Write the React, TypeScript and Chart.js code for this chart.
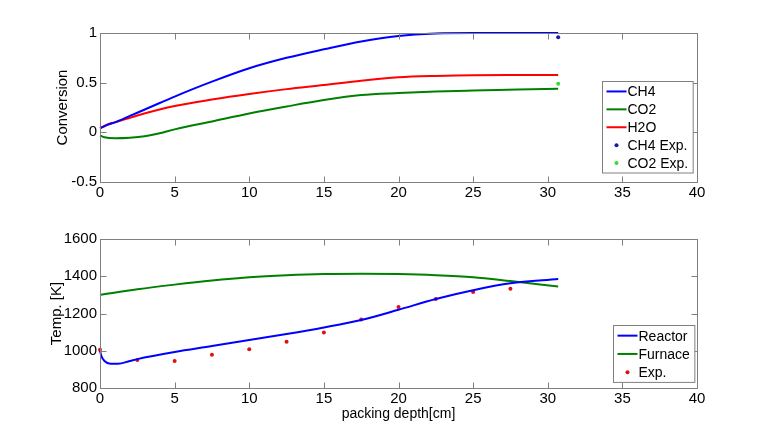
import React, { useEffect, useRef } from "react";
import { Chart, registerables } from "chart.js";
Chart.register(...registerables);

// ---- Top panel: conversion ----
const ch4X = [0, 0.5, 1, 2, 3, 4, 5, 7.5, 10, 12.5, 15, 17.5, 20, 22.5, 25, 28, 30.7];
const ch4Y = [0.04, 0.075, 0.1, 0.165, 0.23, 0.295, 0.36, 0.51, 0.645, 0.75, 0.836, 0.915, 0.97, 0.995, 1.0, 1.0, 1.0];
const co2X = [0, 0.3, 1, 2, 3, 4, 5, 7.5, 10, 12.5, 15, 17.5, 20, 22.5, 25, 28, 30.7];
const co2Y = [-0.03, -0.05, -0.06, -0.055, -0.04, -0.01, 0.03, 0.11, 0.19, 0.26, 0.325, 0.375, 0.395, 0.41, 0.42, 0.43, 0.44];
const h2oX = [0, 0.5, 1, 2.5, 5, 7.5, 10, 12.5, 15, 17.5, 20, 22.5, 25, 28, 30.7];
const h2oY = [0.04, 0.08, 0.1, 0.17, 0.265, 0.33, 0.386, 0.435, 0.476, 0.52, 0.554, 0.568, 0.575, 0.576, 0.576];
const ch4ExpX = [30.7];
const ch4ExpY = [0.957];
const co2ExpX = [30.7];
const co2ExpY = [0.49];

// ---- Bottom panel: temperature ----
const reactorX = [0, 0.1, 0.3, 0.7, 1.2, 2, 2.5, 5, 7.5, 10, 12.5, 15, 17.5, 20, 22.5, 25, 27.5, 30.7];
const reactorY = [1000, 970, 945, 930, 930, 945, 955, 993, 1025, 1058, 1090, 1125, 1165, 1220, 1278, 1325, 1362, 1385];
const furnaceX = [0, 2.5, 5, 7.5, 10, 12.5, 15, 17.5, 20, 22.5, 25, 27.5, 30.7];
const furnaceY = [1300, 1330, 1355, 1377, 1394, 1405, 1412, 1414, 1412, 1406, 1395, 1374, 1345];
const expX = [0, 2.5, 5, 7.5, 10, 12.5, 15, 17.5, 20, 22.5, 25, 27.5];
const expY = [1005, 950, 945, 978, 1008, 1048, 1098, 1168, 1235, 1278, 1315, 1333];

const FONT = "Arial, 'Liberation Sans', Helvetica, sans-serif";

const pts = (xs: number[], ys: number[]) => xs.map((x, i) => ({ x, y: ys[i] }));

const boxPlugin = {
  id: "mbox",
  afterDraw(chart: any) {
    const { ctx, chartArea: a, scales } = chart;
    ctx.save();
    ctx.strokeStyle = "#808080";
    ctx.lineWidth = 1;
    const L = Math.round(a.left) + 0.5, R = Math.round(a.right) + 0.5;
    const T = Math.round(a.top) + 0.5, B = Math.round(a.bottom) + 0.5;
    ctx.strokeRect(L, T, R - L, B - T);
    const tl = 6;
    ctx.beginPath();
    scales.x.ticks.forEach((t: any) => {
      const px = Math.round(scales.x.getPixelForValue(t.value)) + 0.5;
      ctx.moveTo(px, B); ctx.lineTo(px, B - tl);
      ctx.moveTo(px, T); ctx.lineTo(px, T + tl);
    });
    scales.y.ticks.forEach((t: any) => {
      const py = Math.round(scales.y.getPixelForValue(t.value)) + 0.5;
      ctx.moveTo(L, py); ctx.lineTo(L + tl, py);
      ctx.moveTo(R, py); ctx.lineTo(R - tl, py);
    });
    ctx.stroke();
    ctx.restore();
  },
};

const legendPlugin = {
  id: "mlegend",
  afterDraw(chart: any, _args: any, opts: any) {
    const { ctx, chartArea: a } = chart;
    const ds = chart.data.datasets;
    ctx.save();
    ctx.font = `14px ${FONT}`;
    let maxW = 0;
    ds.forEach((d: any) => { maxW = Math.max(maxW, ctx.measureText(d.label).width); });
    const rowH = opts.rowH;
    const lineW = 20;
    const w = 4 + lineW + 1 + maxW + 5;
    const h = rowH * ds.length + 2;
    const right = a.right - opts.right;
    const bottom = a.bottom - opts.bottom;
    const x0 = Math.round(right - w) + 0.5;
    const y0 = Math.round(bottom - h) + 0.5;
    ctx.fillStyle = "#fff";
    ctx.fillRect(x0, y0, w, h);
    ctx.strokeStyle = "#808080";
    ctx.lineWidth = 1;
    ctx.strokeRect(x0, y0, w, h);
    ds.forEach((d: any, i: number) => {
      const cy = y0 + 1 + rowH * (i + 0.5);
      const lx = x0 + 4;
      if (d.showLine === false) {
        ctx.fillStyle = d.pointBackgroundColor;
        ctx.beginPath();
        ctx.arc(lx + lineW / 2, cy, 2, 0, Math.PI * 2);
        ctx.fill();
      } else {
        ctx.strokeStyle = d.borderColor;
        ctx.lineWidth = 2;
        ctx.beginPath();
        ctx.moveTo(lx, cy); ctx.lineTo(lx + lineW, cy);
        ctx.stroke();
      }
      ctx.fillStyle = "#000";
      ctx.textBaseline = "middle";
      ctx.textAlign = "left";
      ctx.fillText(d.label, lx + lineW + 1, cy + 1);
    });
    ctx.restore();
  },
};

const lineDs = (label: string, xs: number[], ys: number[], color: string) => ({
  label,
  data: pts(xs, ys),
  borderColor: color,
  backgroundColor: color,
  borderWidth: 2,
  pointRadius: 0,
  showLine: true,
  cubicInterpolationMode: "monotone" as const,
  clip: false as any,
});

const dotDs = (label: string, xs: number[], ys: number[], color: string) => ({
  label,
  data: pts(xs, ys),
  borderColor: color,
  backgroundColor: color,
  pointBackgroundColor: color,
  pointBorderColor: color,
  pointRadius: 2,
  pointBorderWidth: 0,
  showLine: false,
  clip: false as any,
});

function makeOptions(
  yMin: number, yMax: number, yStep: number, yTitle: string, yTitlePad: number,
  xHeight: number, padTop: number, xTitle: string | null,
  legend: { right: number; bottom: number; rowH: number }
): any {
  return {
    responsive: false,
    animation: false,
    layout: { padding: { left: 0, right: 73, top: padTop, bottom: 0 } },
    plugins: {
      legend: { display: false },
      tooltip: { enabled: false },
      mlegend: legend,
    },
    scales: {
      x: {
        type: "linear",
        min: 0, max: 40,
        grid: { display: false, drawTicks: false },
        border: { display: false },
        ticks: {
          stepSize: 5, padding: 2, color: "#000", maxRotation: 0, autoSkip: false,
          font: { family: FONT, size: 15 },
          callback: (v: any) => String(v),
        },
        title: xTitle
          ? { display: true, text: xTitle, color: "#000", font: { family: FONT, size: 14 }, padding: { top: 0, bottom: 13 } }
          : { display: false },
        afterFit: (s: any) => { s.height = xHeight; },
      },
      y: {
        type: "linear",
        min: yMin, max: yMax,
        grid: { display: false, drawTicks: false },
        border: { display: false },
        ticks: {
          stepSize: yStep, padding: 3, color: "#000",
          font: { family: FONT, size: 15 },
          callback: (v: any) => String(v),
        },
        title: { display: true, text: yTitle, color: "#000", font: { family: FONT, size: 15 }, padding: { top: yTitlePad, bottom: 0 } },
        afterFit: (s: any) => { s.width = 100; },
      },
    },
  };
}

export default function App() {
  const topRef = useRef<HTMLCanvasElement>(null);
  const botRef = useRef<HTMLCanvasElement>(null);

  useEffect(() => {
    const top = new Chart(topRef.current!, {
      type: "scatter",
      data: {
        datasets: [
          lineDs("CH4", ch4X, ch4Y, "#0000ff"),
          lineDs("CO2", co2X, co2Y, "#008000"),
          lineDs("H2O", h2oX, h2oY, "#ff0000"),
          dotDs("CH4 Exp.", ch4ExpX, ch4ExpY, "#1a1aa0"),
          dotDs("CO2 Exp.", co2ExpX, co2ExpY, "#33dd33"),
        ] as any,
      },
      options: makeOptions(-0.5, 1, 0.5, "Conversion", 54, 36, 33, null, { right: 4, bottom: 10, rowH: 17.9 }),
      plugins: [boxPlugin, legendPlugin],
    });
    const bot = new Chart(botRef.current!, {
      type: "scatter",
      data: {
        datasets: [
          lineDs("Reactor", reactorX, reactorY, "#0000ff"),
          lineDs("Furnace", furnaceX, furnaceY, "#008000"),
          dotDs("Exp.", expX, expY, "#e01010"),
        ] as any,
      },
      options: makeOptions(800, 1600, 200, "Temp. [K]", 48, 48, 21, "packing depth[cm]", { right: 3, bottom: 6, rowH: 18.3 }),
      plugins: [boxPlugin, legendPlugin],
    });
    return () => { top.destroy(); bot.destroy(); };
  }, []);

  return (
    <div style={{ position: "absolute", left: 0, top: 0, width: 770, height: 436, background: "#fff" }}>
      <canvas ref={topRef} width={770} height={218} style={{ display: "block", position: "absolute", left: 0, top: 0 }} />
      <canvas ref={botRef} width={770} height={218} style={{ display: "block", position: "absolute", left: 0, top: 218 }} />
    </div>
  );
}
